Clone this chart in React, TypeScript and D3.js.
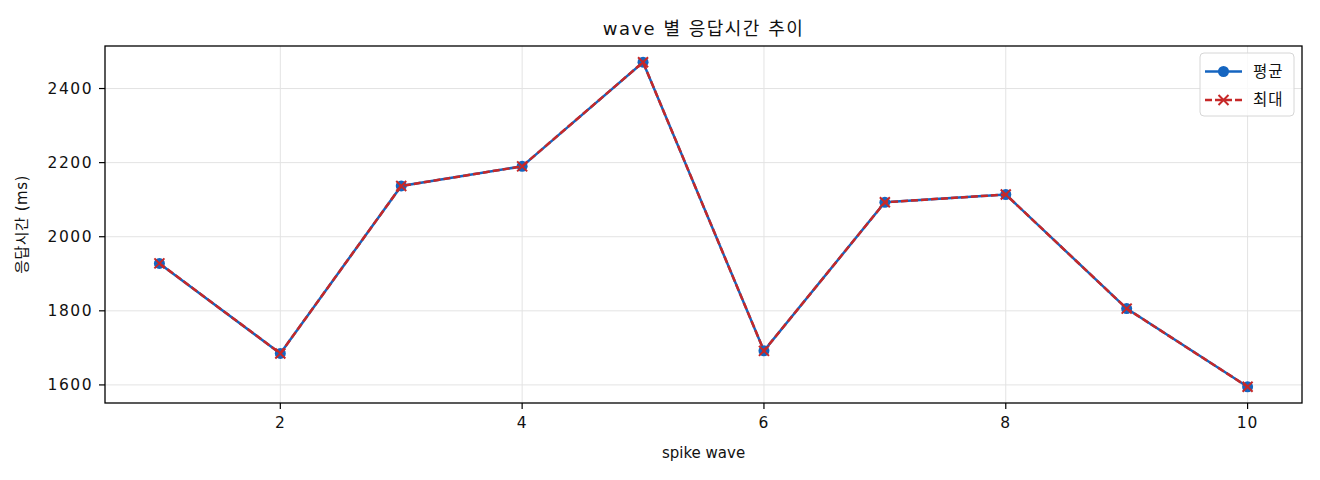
import * as d3 from 'd3';

const waves = [1, 2, 3, 4, 5, 6, 7, 8, 9, 10];
const avgValues = [1928, 1685, 2137, 2190, 2471, 1692, 2093, 2114, 1806, 1595];
const maxValues = [1928, 1685, 2137, 2190, 2471, 1692, 2093, 2114, 1806, 1595];
const xTicks = [2, 4, 6, 8, 10];
const yTicks = [1600, 1800, 2000, 2200, 2400];

const WIDTH = 1320;
const HEIGHT = 480;
const margin = { top: 46, right: 18, bottom: 77, left: 105 };
const FONT = '"DejaVu Sans", "Noto Sans CJK KR", sans-serif';
const BLUE = '#1565C0';
const RED = '#C62828';

export default function App() {
  const innerW = WIDTH - margin.left - margin.right;
  const innerH = HEIGHT - margin.top - margin.bottom;

  const xPad = (d3.max(waves)! - d3.min(waves)!) * 0.05;
  const xScale = d3
    .scaleLinear()
    .domain([d3.min(waves)! - xPad, d3.max(waves)! + xPad])
    .range([0, innerW]);

  const allValues = [...avgValues, ...maxValues];
  const yMin = d3.min(allValues)!;
  const yMax = d3.max(allValues)!;
  const yPad = (yMax - yMin) * 0.05;
  const yScale = d3
    .scaleLinear()
    .domain([yMin - yPad, yMax + yPad])
    .range([innerH, 0]);

  const line = d3
    .line<number>()
    .x((_, i) => xScale(waves[i]))
    .y((d) => yScale(d));

  const xMark = (cx: number, cy: number, s: number) =>
    `M${cx - s},${cy - s}L${cx + s},${cy + s}M${cx - s},${cy + s}L${cx + s},${cy - s}`;

  return (
    <svg
      width={WIDTH}
      height={HEIGHT}
      style={{ position: 'absolute', left: 0, top: 0, background: '#fff', fontFamily: FONT }}
    >
      <text
        x={margin.left + innerW / 2}
        y={35}
        textAnchor="middle"
        fontSize={18}
        letterSpacing={1.5}
        fill="#111"
      >
        wave 별 응답시간 추이
      </text>

      <g transform={`translate(${margin.left},${margin.top})`}>
        {/* grid */}
        {xTicks.map((t) => (
          <line
            key={`gx${t}`}
            x1={xScale(t)}
            x2={xScale(t)}
            y1={0}
            y2={innerH}
            stroke="#e3e3e3"
            strokeWidth={1}
          />
        ))}
        {yTicks.map((t) => (
          <line
            key={`gy${t}`}
            x1={0}
            x2={innerW}
            y1={yScale(t)}
            y2={yScale(t)}
            stroke="#e3e3e3"
            strokeWidth={1}
          />
        ))}

        {/* series */}
        <path d={line(avgValues)!} fill="none" stroke={BLUE} strokeWidth={2.5} />
        {avgValues.map((v, i) => (
          <circle key={`c${i}`} cx={xScale(waves[i])} cy={yScale(v)} r={5.5} fill={BLUE} />
        ))}
        <path
          d={line(maxValues)!}
          fill="none"
          stroke={RED}
          strokeWidth={2.5}
          strokeDasharray="7,3"
        />
        {maxValues.map((v, i) => (
          <path
            key={`x${i}`}
            d={xMark(xScale(waves[i]), yScale(v), 5)}
            stroke={RED}
            strokeWidth={2}
            fill="none"
          />
        ))}

        {/* frame */}
        <rect x={0} y={0} width={innerW} height={innerH} fill="none" stroke="#000" strokeWidth={1.3} />

        {/* x axis */}
        {xTicks.map((t) => (
          <g key={`xt${t}`} transform={`translate(${xScale(t)},${innerH})`}>
            <line y2={6} stroke="#000" strokeWidth={1.2} />
            <text y={25} textAnchor="middle" fontSize={15.5} letterSpacing={1} fill="#111">
              {t}
            </text>
          </g>
        ))}
        {/* y axis */}
        {yTicks.map((t) => (
          <g key={`yt${t}`} transform={`translate(0,${yScale(t)})`}>
            <line x2={-6} stroke="#000" strokeWidth={1.2} />
            <text x={-12} dy="0.35em" textAnchor="end" fontSize={15.5} letterSpacing={1.5} fill="#111">
              {t}
            </text>
          </g>
        ))}

        <text
          x={innerW / 2}
          y={innerH + 55}
          textAnchor="middle"
          fontSize={15}
          fill="#111"
        >
          spike wave
        </text>
        <text
          transform={`translate(${-78},${innerH / 2}) rotate(-90)`}
          textAnchor="middle"
          fontSize={15}
          letterSpacing={0.5}
          fill="#111"
        >
          응답시간 (ms)
        </text>

        {/* legend */}
        <g transform={`translate(${innerW - 102},${7})`}>
          <rect
            x={0}
            y={0}
            width={94}
            height={63}
            rx={4}
            fill="#fff"
            fillOpacity={0.8}
            stroke="#d6d6d6"
            strokeWidth={1}
          />
          <line x1={5} x2={42} y1={18.5} y2={18.5} stroke={BLUE} strokeWidth={2.5} />
          <circle cx={23.5} cy={18.5} r={5.5} fill={BLUE} />
          <text x={53} y={18.5} dy="0.35em" fontSize={15.5} letterSpacing={1} fill="#111">
            평균
          </text>
          <line
            x1={5}
            x2={42}
            y1={47}
            y2={47}
            stroke={RED}
            strokeWidth={2.5}
            strokeDasharray="7,3"
          />
          <path d={xMark(23.5, 47, 5)} stroke={RED} strokeWidth={2} fill="none" />
          <text x={53} y={47} dy="0.35em" fontSize={15.5} letterSpacing={1} fill="#111">
            최대
          </text>
        </g>
      </g>
    </svg>
  );
}
